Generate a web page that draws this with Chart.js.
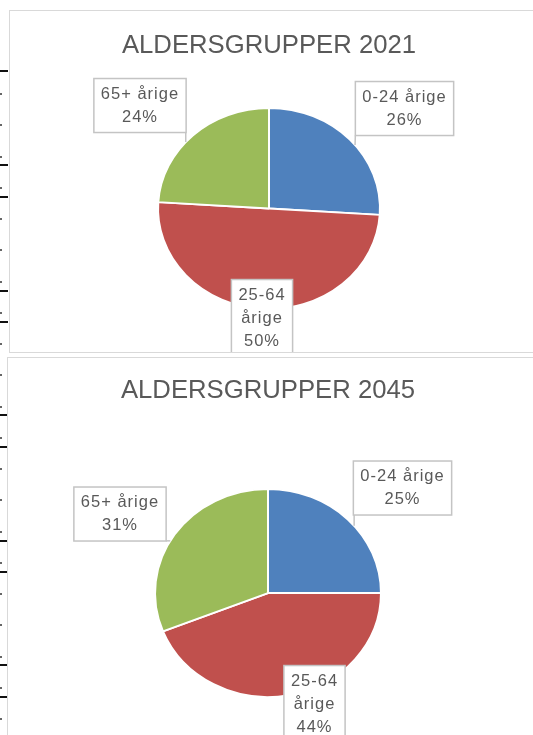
<!DOCTYPE html>
<html>
<head>
<meta charset="utf-8">
<script src="https://cdn.jsdelivr.net/npm/chart.js@4/dist/chart.umd.min.js"></script>
<style>
html, body { margin: 0; padding: 0; overflow: hidden; background: #fff; }
body { position: relative; width: 533px; height: 735px; }
.panel { position: absolute; border: 1px solid #d9d9d9; background: #fff; box-sizing: border-box; }
#p1 { left: 9px; top: 10px; width: 540px; height: 343px; }
#p2 { left: 7px; top: 357px; width: 540px; height: 380px; }
.mark { position: absolute; left: 0; width: 8px; height: 2px; background: #111; }
.dot { position: absolute; left: 0; width: 2px; height: 2px; background: #666; }
</style>
</head>
<body>
<div class="panel" id="p1"><canvas id="c1"></canvas></div>
<div class="panel" id="p2"><canvas id="c2"></canvas></div>
<script>
const categories = ["0-24 årige", "25-64 årige", "65+ årige"];
const values2021 = [26, 50, 24];
const values2045 = [25, 44, 31];
const titles = ["ALDERSGRUPPER 2021", "ALDERSGRUPPER 2045"];
const sliceColors = ["#4f81bd", "#c0504d", "#9bbb59"];

// spreadsheet row marks peeking out on the left edge
const markRows = [71, 165, 197, 291, 322, 415, 447, 541, 572, 665, 697];
markRows.forEach((y) => {
  const d = document.createElement("div");
  d.className = "mark";
  d.style.top = y - 1 + "px";
  document.body.prepend(d);
});
for (let y = 93; y < 735; y += 31.25) {
  const d = document.createElement("div");
  d.className = "dot";
  d.style.top = Math.round(y) + "px";
  document.body.prepend(d);
}

const callouts = {
  id: "callouts",
  beforeDatasetsDraw(chart, args, opts) {
    const arc = chart.getDatasetMeta(0).data[0];
    const ctx = chart.ctx;
    ctx.save();
    ctx.translate(arc.x, arc.y);
    ctx.scale(1, opts.squash);
    ctx.translate(-arc.x, -arc.y);
  },
  afterDatasetsDraw(chart, args, opts) {
    const ctx = chart.ctx;
    ctx.restore();
    const meta = chart.getDatasetMeta(0);
    const values = chart.data.datasets[0].data;
    ctx.save();
    ctx.font = "16.5px Arial, sans-serif";
    ctx.letterSpacing = "1px";
    ctx.textAlign = "center";
    ctx.textBaseline = "middle";
    meta.data.forEach((arc, i) => {
      const cx = arc.x, cy = arc.y, r = arc.outerRadius;
      const lx = cx + opts.offsets[i][0];
      const ly = cy + opts.offsets[i][1];
      const name = chart.data.labels[i];
      const lines = (opts.wrap[i] ? name.split(" ") : [name]).concat(values[i] + "%");
      const lh = 23;
      const w = Math.max(...lines.map((t) => ctx.measureText(t).width)) + 14;
      const h = lines.length * lh + 8;
      const bx = lx - w / 2, by = ly - h / 2;

      // leader line from the pie edge to the box
      const a = Math.atan2((ly - cy) / opts.squash, lx - cx);
      const ex = cx + r * Math.cos(a);
      const ey = cy + r * opts.squash * Math.sin(a);
      const nx = Math.min(Math.max(ex, bx), bx + w);
      const ny = Math.min(Math.max(ey, by), by + h);
      ctx.strokeStyle = "#c4c4c4";
      ctx.lineWidth = 1.5;
      if (Math.hypot(ex - nx, ey - ny) > 3) {
        ctx.beginPath();
        ctx.moveTo(nx, ny);
        ctx.lineTo(ex, ey);
        ctx.stroke();
      }
      ctx.fillStyle = "#fff";
      ctx.fillRect(bx, by, w, h);
      ctx.strokeRect(bx, by, w, h);

      ctx.fillStyle = "#595959";
      lines.forEach((t, k) => {
        ctx.fillText(t, lx, by + 4 + lh * k + lh / 2);
      });
    });
    ctx.restore();
  },
};

function makePie(id, values, title, pad, titlePad, calloutOpts) {
  return new Chart(document.getElementById(id), {
    type: "pie",
    data: {
      labels: categories,
      datasets: [
        {
          data: values,
          backgroundColor: sliceColors,
          borderColor: "#ffffff",
          borderWidth: 2,
        },
      ],
    },
    options: {
      responsive: true,
      maintainAspectRatio: false,
      animation: false,
      layout: { padding: pad },
      plugins: {
        legend: { display: false },
        tooltip: { enabled: false },
        title: {
          display: true,
          text: title,
          color: "#595959",
          font: { family: "Arial, sans-serif", size: 25.7, weight: 400 },
          padding: titlePad,
        },
        callouts: calloutOpts,
      },
    },
    plugins: [callouts],
  });
}

makePie(
  "c1",
  values2021,
  titles[0],
  { left: 0, right: 20, top: 0, bottom: 31.5 },
  { top: 19.6, bottom: 35.1 },
  {
    squash: 0.906,
    offsets: [[135.5, -100], [-7, 109.5], [-129, -103]],
    wrap: [false, true, false],
  }
);

makePie(
  "c2",
  values2045,
  titles[1],
  { left: 0, right: 18, top: 0, bottom: 29 },
  { top: 17.6, bottom: 72.6 },
  {
    squash: 0.92,
    offsets: [[134.5, -105], [46.5, 111], [-148, -79]],
    wrap: [false, true, false],
  }
);
</script>
</body>
</html>
